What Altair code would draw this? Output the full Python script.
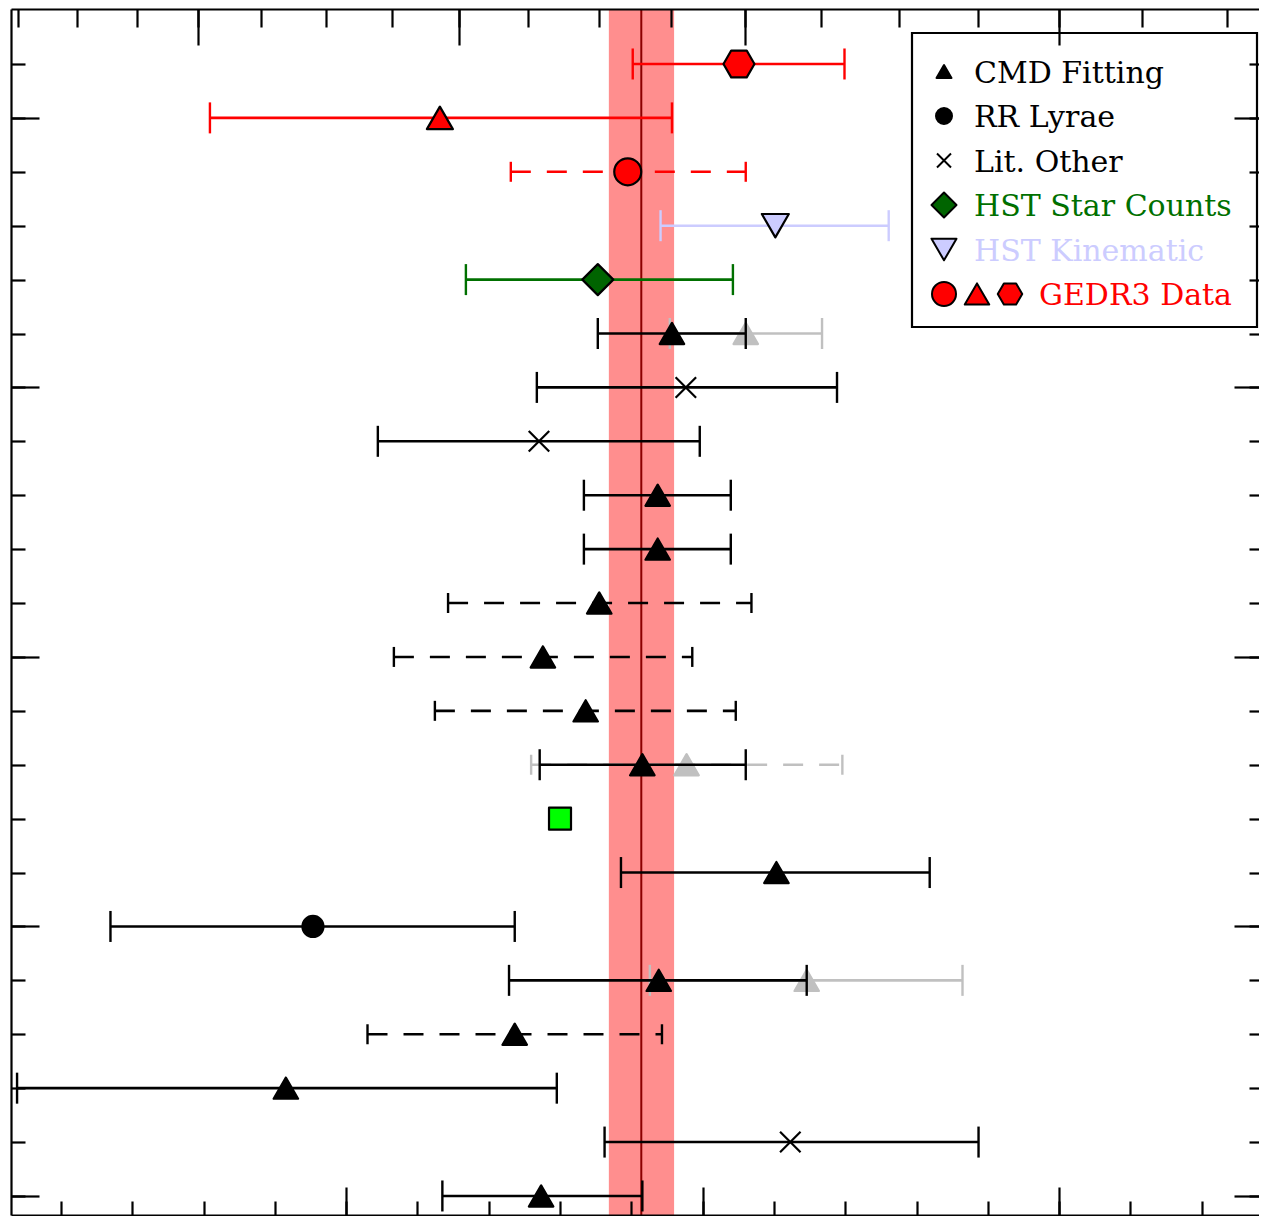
import altair as alt
import pandas as pd

# ---------------- data (distance in kpc; rows 1 = bottom ... 22 = top) ----------------
pt_row = [22, 21, 20, 19, 18, 17, 17, 16, 15, 14, 13, 12, 11, 10, 9, 9, 8, 7, 6, 5, 5, 4, 3, 2, 1]
pt_value = [91.02, 82.63, 87.90, 92.04, 87.06, 91.21, 89.14, 89.53, 85.41, 88.74, 88.74, 87.10,
            85.52, 86.72, 89.55, 88.31, 86.00, 92.07, 79.07, 92.92, 88.77, 84.73, 78.31, 92.46, 85.47]
pt_kind = ["gedr3_hex", "gedr3_tri", "gedr3_circle", "hst_kin", "hst_counts", "cmd_alt", "cmd",
           "lit", "lit", "cmd", "cmd", "cmd", "cmd", "cmd", "cmd_alt", "cmd", "other", "cmd", "rrl",
           "cmd_alt", "cmd", "cmd", "cmd", "lit", "cmd"]

bar_row = [22, 21, 20, 19, 18, 17, 17, 16, 15, 14, 13, 12, 11, 10, 9, 9, 7, 6, 5, 5, 4, 3, 2, 1]
bar_lo = [88.04, 76.18, 84.62, 88.82, 83.36, 89.08, 87.06, 85.35, 80.89, 86.67, 86.67, 82.86,
          81.34, 82.49, 85.19, 85.43, 87.71, 73.39, 88.52, 84.57, 80.60, 70.77, 87.25, 82.70]
bar_hi = [93.98, 89.14, 91.21, 95.22, 90.85, 93.35, 91.21, 93.77, 89.92, 90.79, 90.79, 91.37,
          89.71, 90.93, 93.92, 91.21, 96.37, 84.73, 97.29, 92.92, 88.86, 85.91, 97.74, 88.31]
bar_kind = ["gedr3", "gedr3", "gedr3", "hst_kin", "hst_counts", "alt", "std", "std", "std", "std",
            "std", "std", "std", "std", "alt", "std", "std", "std", "alt", "std", "std", "std",
            "std", "std"]
bar_line = ["solid", "solid", "dashed", "solid", "solid", "solid", "solid", "solid", "solid",
            "solid", "solid", "dashed", "dashed", "dashed", "dashed", "solid", "solid", "solid",
            "solid", "solid", "dashed", "solid", "solid", "solid"]

band_center = [88.28]
band_lo = [87.37]
band_hi = [89.20]

# axis tick values
bottom_minor = list(range(72, 106, 2))
bottom_major = [80, 90, 100]
top_mu_minor = [19.25, 19.30, 19.35, 19.40, 19.45, 19.50, 19.55, 19.60, 19.65, 19.70,
                19.75, 19.80, 19.85, 19.90, 19.95, 20.00, 20.05, 20.10]
top_mu_major = [19.4, 19.6, 19.8, 20.0]
row_minor = list(range(1, 23))
row_major = [1, 6, 11, 16, 21]

legend_labels = ["CMD Fitting", "RR Lyrae", "Lit. Other", "HST Star Counts", "HST Kinematic", "GEDR3 Data"]


def mu_to_kpc(mu):
    return 10 ** (mu / 5.0 - 2.0)


# ---------------- layout / styles ----------------
W, H = 1248, 1206
XS = alt.Scale(domain=[70.6, 70.6 + W / 35.65], nice=False, zero=False)
YS = alt.Scale(domain=[0.647, 23.020], nice=False, zero=False)

XPATH = "M-1,-1L1,1M-1,1L1,-1"
HEXPATH = "M-1,0L-0.5,-0.866L0.5,-0.866L1,0L0.5,0.866L-0.5,0.866Z"
GRAY = "#c0c0c0"
LAV = "#ccccff"
GREEN = "#007000"
LW = 2.6

BAR_COLORS = {"gedr3": "#ff0000", "hst_kin": LAV, "hst_counts": GREEN, "std": "#000000", "alt": GRAY}
PSTYLE = {
    "cmd": ("triangle-up", "#000000", "#000000", 600),
    "cmd_alt": ("triangle-up", GRAY, GRAY, 600),
    "rrl": ("circle", "#000000", "#000000", 441),
    "lit": (XPATH, "transparent", "#000000", 420),
    "hst_counts": ("diamond", "#006400", "#000000", 961),
    "hst_kin": ("triangle-down", LAV, "#000000", 729),
    "gedr3_circle": ("circle", "#ff0000", "#000000", 729),
    "gedr3_tri": ("triangle-up", "#ff0000", "#000000", 676),
    "gedr3_hex": (HEXPATH, "#ff0000", "#000000", 961),
    "other": ("square", "#00ff00", "#000000", 484),
}

bars = pd.DataFrame(dict(row=bar_row, lo=bar_lo, hi=bar_hi, kind=bar_kind, line=bar_line))
pts = pd.DataFrame(dict(row=pt_row, value=pt_value, kind=pt_kind))
pts["shape"] = [PSTYLE[k][0] for k in pts["kind"]]
pts["fill"] = [PSTYLE[k][1] for k in pts["kind"]]
pts["stroke"] = [PSTYLE[k][2] for k in pts["kind"]]
pts["size"] = [PSTYLE[k][3] for k in pts["kind"]]
band = pd.DataFrame(dict(c=band_center, lo=band_lo, hi=band_hi))

bar_color = alt.Color("kind:N", scale=alt.Scale(domain=list(BAR_COLORS), range=list(BAR_COLORS.values())),
                      legend=None)
ROW = alt.Y("row:Q", scale=YS, axis=None)

layers = []

# band and central value
layers.append(alt.Chart(band).mark_rect(color="#ff8e8e").encode(
    x=alt.X("lo:Q", scale=XS, axis=None), x2="hi:Q", y=alt.value(0), y2=alt.value(H)))
layers.append(alt.Chart(band).mark_rule(color="#8b0000", strokeWidth=2).encode(
    x=alt.X("c:Q", scale=XS, axis=None)))


def bar_layers(tier_filter):
    out = []
    base = alt.Chart(bars).transform_filter(tier_filter)
    out.append(base.transform_filter(alt.datum.line == "solid").mark_rule(strokeWidth=LW).encode(
        x=alt.X("lo:Q", scale=XS, axis=None), x2="hi:Q", y=ROW, color=bar_color))
    out.append(base.transform_filter(alt.datum.line == "dashed").mark_rule(
        strokeWidth=LW, strokeDash=[20, 16]).encode(
        x=alt.X("lo:Q", scale=XS, axis=None), x2="hi:Q", y=ROW, color=bar_color))
    caps = base.transform_fold(["lo", "hi"], as_=["end", "xv"])
    out.append(caps.transform_filter(alt.datum.line == "solid").mark_tick(
        orient="vertical", size=31, thickness=2.4, opacity=1).encode(
        x=alt.X("xv:Q", scale=XS, axis=None), y=ROW, color=bar_color))
    out.append(caps.transform_filter(alt.datum.line == "dashed").mark_tick(
        orient="vertical", size=20, thickness=2.4, opacity=1).encode(
        x=alt.X("xv:Q", scale=XS, axis=None), y=ROW, color=bar_color))
    return out


def point_layer(tier_filter):
    return alt.Chart(pts).transform_filter(tier_filter).mark_point(
        filled=True, strokeWidth=2.2, strokeJoin="round", opacity=1).encode(
        x=alt.X("value:Q", scale=XS, axis=None), y=ROW,
        shape=alt.Shape("shape:N", scale=None),
        fill=alt.Fill("fill:N", scale=None),
        stroke=alt.Stroke("stroke:N", scale=None),
        size=alt.Size("size:Q", scale=None))


# gray (alternative) measurements underneath
layers += bar_layers(alt.datum.kind == "alt")
layers.append(point_layer(alt.datum.kind == "cmd_alt"))
# main measurements
layers += bar_layers(alt.datum.kind != "alt")
layers.append(point_layer(alt.datum.kind != "cmd_alt"))


# ---------------- axes (inward ticks + frame) ----------------
def ax(orient, values, length):
    return alt.Axis(orient=orient, values=values, tickSize=length, offset=-length, domain=False,
                    labels=False, grid=False, title=None, ticks=True, tickColor="black",
                    tickWidth=2.2, zindex=1)


def frame(orient):
    return alt.Axis(orient=orient, domain=True, domainColor="black", domainWidth=2.2, ticks=False,
                    labels=False, grid=False, title=None, zindex=1)


axis_pairs = [
    (ax("bottom", bottom_minor, 14), ax("left", row_minor, 14)),
    (ax("bottom", bottom_major, 28), ax("left", row_major, 28)),
    (ax("top", [mu_to_kpc(m) for m in top_mu_minor], 18), ax("right", row_minor, 10)),
    (ax("top", [mu_to_kpc(m) for m in top_mu_major], 36), ax("right", row_major, 25)),
    (frame("bottom"), frame("left")),
    (frame("top"), None),
]
for xa, ya in axis_pairs:
    layers.append(alt.Chart(pts).mark_point(opacity=0).encode(
        x=alt.X("value:Q", scale=XS, axis=xa), y=alt.Y("row:Q", scale=YS, axis=ya)))

# ---------------- legend (drawn in plot pixel space) ----------------
one = pd.DataFrame({"k": [0]})
LX0, LX1, LY0, LY1 = 901, 1246, 24, 318
layers.append(alt.Chart(one).mark_rect(fill="white", stroke="black", strokeWidth=2.2).encode(
    x=alt.value(LX0), x2=alt.value(LX1), y=alt.value(LY0), y2=alt.value(LY1)))

leg_y = [62.5, 107, 151.5, 196, 240.5, 285]
leg_syms = [[("cmd", 933, 225)], [("rrl", 933, 256)], [("lit", 933, 196)],
            [("hst_counts", 933, 625)], [("hst_kin", 933, 625)],
            [("gedr3_circle", 933, 576), ("gedr3_tri", 966, 600), ("gedr3_hex", 999, 600)]]
leg_text_x = [963, 963, 963, 963, 963, 1028]
leg_colors = ["#000000", "#000000", "#000000", GREEN, LAV, "#ff0000"]

for i, label in enumerate(legend_labels):
    for kind, sx, ssize in leg_syms[i]:
        shp, fil, stk, _ = PSTYLE[kind]
        layers.append(alt.Chart(one).mark_point(
            filled=True, shape=shp, fill=fil, stroke=stk, strokeWidth=2, strokeJoin="round",
            size=ssize, opacity=1).encode(x=alt.value(sx), y=alt.value(leg_y[i])))
    layers.append(alt.Chart(one).mark_text(
        text=label, align="left", baseline="alphabetic", font="DejaVu Serif", fontSize=30,
        color=leg_colors[i]).encode(x=alt.value(leg_text_x[i]), y=alt.value(leg_y[i] + 11)))

chart = alt.layer(*layers).resolve_axis(x="independent", y="independent").properties(
    width=W, height=H,
    autosize=alt.AutoSizeParams(type="none"),
    padding={"left": 3, "top": 1, "right": 0, "bottom": 1},
).configure_view(stroke="transparent")

chart.save("out.html", embed_options={"renderer": "svg", "actions": False})
